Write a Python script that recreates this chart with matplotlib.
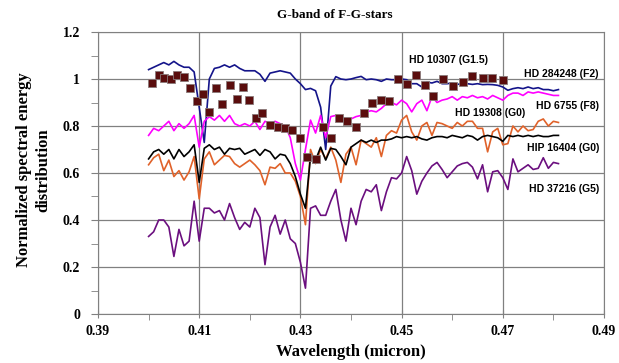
import numpy as np
import matplotlib
matplotlib.use("Agg")
import matplotlib.pyplot as plt
from matplotlib.ticker import FixedLocator, MultipleLocator

# wavelength grid of the spectra (micron), 0.400 ... 0.481
wl = np.linspace(0.400, 0.481, 82)

hd284248 = [1.04, 1.05, 1.06, 1.07, 1.06, 1.075, 1.06, 1.05, 1.05, 1.03,
            0.88, 0.73, 1.00, 1.045, 1.05, 1.06, 1.05, 1.06, 1.045, 1.035,
            1.035, 1.035, 1.02, 0.99, 1.025, 1.03, 1.035, 1.03, 1.025, 1.0,
            0.98, 0.955, 0.96, 0.95, 0.88, 0.70, 0.97, 1.01, 1.0, 0.997,
            1.0, 1.006, 1.011, 0.997, 1.0, 0.997, 0.99, 1.0, 0.997, 0.997,
            1.0, 0.997, 0.98, 0.98, 0.966, 0.987, 0.983, 0.99, 0.98, 0.98,
            0.983, 0.977, 0.98, 0.98, 0.977, 0.98, 0.976, 0.977, 0.976, 0.973,
            0.966, 0.952, 0.959, 0.963, 0.959, 0.966, 0.959, 0.963, 0.955, 0.955,
            0.95, 0.955]

hd6755 = [0.76, 0.79, 0.78, 0.80, 0.82, 0.78, 0.81, 0.79, 0.81, 0.845,
          0.71, 0.82, 0.84, 0.825, 0.845, 0.82, 0.845, 0.81, 0.80, 0.81,
          0.80, 0.82, 0.785, 0.82, 0.81, 0.82, 0.81, 0.80, 0.75, 0.64,
          0.57, 0.70, 0.825, 0.77, 0.845, 0.75, 0.84, 0.845, 0.82, 0.82,
          0.83, 0.84, 0.845, 0.86, 0.865, 0.86, 0.875, 0.895, 0.90, 0.89,
          0.91, 0.895, 0.86, 0.895, 0.91, 0.865, 0.925, 0.90, 0.91, 0.915,
          0.925, 0.91, 0.925, 0.92, 0.93, 0.92, 0.925, 0.915, 0.93, 0.92,
          0.91, 0.93, 0.94, 0.94, 0.93, 0.945, 0.94, 0.945, 0.94, 0.935,
          0.93, 0.93]

hd19308 = [0.635, 0.665, 0.68, 0.61, 0.655, 0.585, 0.61, 0.57, 0.605, 0.67,
           0.49, 0.66, 0.69, 0.635, 0.655, 0.675, 0.67, 0.64, 0.625, 0.64,
           0.655, 0.635, 0.61, 0.55, 0.625, 0.62, 0.64, 0.60, 0.60, 0.565,
           0.50, 0.38, 0.70, 0.64, 0.70, 0.66, 0.71, 0.655, 0.56, 0.68,
           0.71, 0.635, 0.74, 0.725, 0.71, 0.75, 0.67, 0.76, 0.78, 0.77,
           0.825, 0.845, 0.775, 0.74, 0.80, 0.815, 0.76, 0.815, 0.81, 0.80,
           0.79, 0.815, 0.80, 0.82, 0.82, 0.79, 0.79, 0.69, 0.775, 0.79,
           0.72, 0.725, 0.80, 0.775, 0.80, 0.78, 0.785, 0.82, 0.83, 0.80,
           0.82, 0.815]

hip16404 = [0.66, 0.69, 0.70, 0.68, 0.70, 0.66, 0.70, 0.67, 0.69, 0.72,
            0.56, 0.705, 0.72, 0.70, 0.71, 0.68, 0.705, 0.70, 0.705, 0.68,
            0.69, 0.70, 0.675, 0.70, 0.69, 0.66, 0.68, 0.675, 0.64, 0.585,
            0.51, 0.45, 0.67, 0.655, 0.71, 0.655, 0.705, 0.70, 0.67, 0.635,
            0.71, 0.725, 0.74, 0.73, 0.74, 0.73, 0.74, 0.74, 0.745, 0.755,
            0.75, 0.755, 0.75, 0.755, 0.745, 0.74, 0.75, 0.755, 0.755, 0.75,
            0.76, 0.755, 0.75, 0.76, 0.755, 0.74, 0.755, 0.76, 0.755, 0.75,
            0.735, 0.76, 0.755, 0.76, 0.755, 0.76, 0.755, 0.76, 0.755, 0.755,
            0.76, 0.76]

hd37216 = [0.33, 0.35, 0.40, 0.40, 0.37, 0.245, 0.36, 0.29, 0.31, 0.48,
           0.31, 0.45, 0.45, 0.43, 0.44, 0.40, 0.47, 0.41, 0.36, 0.39,
           0.37, 0.45, 0.41, 0.21, 0.37, 0.42, 0.34, 0.40, 0.32, 0.30,
           0.22, 0.11, 0.45, 0.46, 0.42, 0.42, 0.48, 0.53, 0.40, 0.31,
           0.45, 0.38, 0.48, 0.53, 0.52, 0.55, 0.44, 0.52, 0.58, 0.575,
           0.60, 0.67, 0.61, 0.51, 0.565, 0.60, 0.63, 0.645, 0.615, 0.58,
           0.605, 0.63, 0.64, 0.645, 0.625, 0.575, 0.635, 0.52, 0.605, 0.61,
           0.58, 0.53, 0.66, 0.605, 0.62, 0.635, 0.615, 0.62, 0.665, 0.62,
           0.645, 0.64]

# HD 10307 (G1.5), plotted as square markers
hd10307_x = [0.4007, 0.4021, 0.4031, 0.4044, 0.4057, 0.4070, 0.4082, 0.4095, 0.4108, 0.4119,
             0.4133, 0.4146, 0.4160, 0.4174, 0.4186, 0.4199, 0.4212, 0.4225, 0.4239, 0.4256,
             0.4270, 0.4283, 0.4299, 0.4314, 0.4331, 0.4344, 0.4360, 0.4377, 0.4393, 0.4410,
             0.4426, 0.4441, 0.4459, 0.4475, 0.4492, 0.4511, 0.4528, 0.4546, 0.4563, 0.4582,
             0.4602, 0.4621, 0.4640, 0.4660, 0.4679, 0.4700]
hd10307_y = [0.984, 1.016, 1.006, 1.001, 1.016, 1.008, 0.962, 0.907, 0.938, 0.860,
             0.962, 0.892, 0.973, 0.914, 0.964, 0.911, 0.833, 0.856, 0.806, 0.795,
             0.790, 0.785, 0.750, 0.670, 0.660, 0.797, 0.750, 0.833, 0.823, 0.797,
             0.854, 0.896, 0.912, 0.905, 1.000, 0.979, 1.017, 0.975, 0.926, 1.000,
             0.969, 0.987, 1.013, 1.006, 1.006, 0.997]

xticks = [0.39, 0.41, 0.43, 0.45, 0.47, 0.49]
xminor = [0.40, 0.42, 0.44, 0.46, 0.48]

fig = plt.figure(figsize=(6.19, 3.63), dpi=100)
ax = fig.add_axes([98/619, 1-314/363, 506/619, 282/363])

ax.plot(wl, hd284248, color='#14148a', lw=1.2)
ax.plot(wl, hd6755, color='#ff00ff', lw=1.2)
ax.plot(wl, hd19308, color='#e0622a', lw=1.2)
ax.plot(wl, hip16404, color='black', lw=1.2)
ax.plot(wl, hd37216, color='#6b0f7f', lw=1.2)
ax.plot(hd10307_x, hd10307_y, ls='none', marker='s', ms=5.5,
        mfc='#5a0d0d', mec='#8a7a7a', mew=0.6)

ax.set_xlim(0.39, 0.49)
ax.set_ylim(0, 1.2)
ax.xaxis.set_major_locator(FixedLocator(xticks))
ax.xaxis.set_minor_locator(FixedLocator(xminor))
ax.yaxis.set_major_locator(MultipleLocator(0.2))
ax.yaxis.set_minor_locator(MultipleLocator(0.1))
ax.set_xticklabels([f'{v:.2f}' for v in xticks])
ax.set_yticklabels([f'{v:g}' for v in ax.get_yticks()])
ax.grid(True, which='major', color='#808080', lw=0.9)
for s in ax.spines.values():
    s.set_color('#808080')
ax.tick_params(axis='x', which='major', direction='inout', length=6, pad=5, color='#808080')
ax.tick_params(axis='x', which='minor', direction='out', length=4, color='#808080')
ax.tick_params(axis='y', which='both', direction='out', length=5, pad=8, color='#808080')
for lab in ax.get_xticklabels() + ax.get_yticklabels():
    lab.set_family('Liberation Serif')
    lab.set_fontweight('bold')
    lab.set_fontsize(10)

lbl = dict(family='Liberation Sans', fontweight='bold', fontsize=7.5, va='center')
ax.text(0.4515, 1.08, 'HD 10307 (G1.5)', ha='left', **lbl)
ax.text(0.489, 1.022, 'HD 284248 (F2)', ha='right', **lbl)
ax.text(0.489, 0.886, 'HD 6755 (F8)', ha='right', **lbl)
ax.text(0.4606, 0.857, 'HD 19308 (G0)', ha='left', **lbl)
ax.text(0.489, 0.708, 'HIP 16404 (G0)', ha='right', **lbl)
ax.text(0.489, 0.53, 'HD 37216 (G5)', ha='right', **lbl)

fig.text(335/619, 1-15/363, 'G-band of F-G-stars', ha='center', va='center',
         family='Liberation Serif', fontweight='bold', fontsize=9.5)
fig.text(34/619, 1-170/363, 'Normalized spectral energy\ndistribution', ha='center',
         va='center', rotation=90, family='Liberation Serif', fontweight='bold',
         fontsize=12, linespacing=1.3, multialignment='center')
fig.text(351/619, 1-352/363, 'Wavelength (micron)', ha='center', va='center',
         family='Liberation Serif', fontweight='bold', fontsize=12)

fig.savefig('out.png', dpi=100)
